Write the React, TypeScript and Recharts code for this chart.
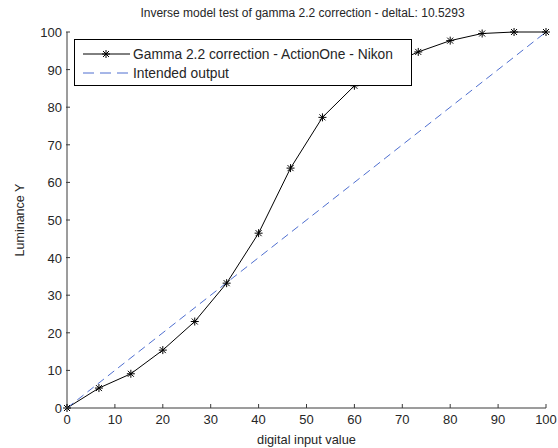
import { LineChart, Line, XAxis, YAxis, Legend } from 'recharts';

const inputValues = [0, 6.67, 13.33, 20, 26.67, 33.33, 40, 46.67, 53.33, 60, 66.67, 73.33, 80, 86.67, 93.33, 100];
const gammaLuminance = [0, 5.3, 9.1, 15.4, 23.0, 33.2, 46.5, 63.8, 77.3, 85.7, 91.0, 94.7, 97.7, 99.6, 100, 100];
const intendedInput = [0, 100];
const intendedLuminance = [0, 100];
const xTicks = [0, 10, 20, 30, 40, 50, 60, 70, 80, 90, 100];
const yTicks = [0, 10, 20, 30, 40, 50, 60, 70, 80, 90, 100];

const gammaData = inputValues.map((x, i) => ({ x, y: gammaLuminance[i] }));
const intendedData = intendedInput.map((x, i) => ({ x, y: intendedLuminance[i] }));

const FONT = '"Liberation Sans", Arial, sans-serif';
const TEXT = '#262626';
const AXIS = '#3a3a3a';
const BLUE = '#4f6fd0';
const DASH = '8 5';

const Star = (props: any) => {
  const { cx, cy } = props;
  if (cx == null || cy == null) return null;
  const r = 4;
  const d = 3;
  return (
    <g stroke="#000" strokeWidth={1}>
      <line x1={cx - r} y1={cy} x2={cx + r} y2={cy} />
      <line x1={cx} y1={cy - r} x2={cx} y2={cy + r} />
      <line x1={cx - d} y1={cy - d} x2={cx + d} y2={cy + d} />
      <line x1={cx - d} y1={cy + d} x2={cx + d} y2={cy - d} />
    </g>
  );
};

const XTick = (props: any) => {
  const { x, y, payload } = props;
  const axisY = y - 4;
  return (
    <g>
      <line x1={x} y1={axisY} x2={x} y2={axisY - 4} stroke={AXIS} />
      <text x={x} y={y} dy={12} textAnchor="middle" fontSize={13} fontFamily={FONT} fill={TEXT}>
        {payload.value}
      </text>
    </g>
  );
};

const YTick = (props: any) => {
  const { x, y, payload } = props;
  const axisX = x + 4;
  return (
    <g>
      <line x1={axisX} y1={y} x2={axisX + 4} y2={y} stroke={AXIS} />
      <text x={x} y={y} dy={5} textAnchor="end" fontSize={13} fontFamily={FONT} fill={TEXT}>
        {payload.value}
      </text>
    </g>
  );
};

const LegendBox = () => (
  <div
    style={{
      width: 338,
      height: 47,
      border: '1px solid #000',
      background: '#fff',
      boxSizing: 'border-box',
    }}
  >
    <svg width={336} height={45} style={{ display: 'block' }}>
      <line x1={8} y1={14} x2={55} y2={14} stroke="#000" />
      <Star cx={31} cy={14} />
      <text x={58} y={19} fontSize={13.8} fontFamily={FONT} fill={TEXT}>
        Gamma 2.2 correction - ActionOne - Nikon
      </text>
      <line x1={8} y1={33} x2={55} y2={33} stroke={BLUE} strokeDasharray="11 6" />
      <text x={58} y={38} fontSize={13.8} fontFamily={FONT} fill={TEXT}>
        Intended output
      </text>
    </svg>
  </div>
);

export default function App() {
  return (
    <div style={{ position: 'absolute', left: 0, top: 0, width: 558, height: 448, background: '#fff' }}>
      <div
        style={{
          position: 'absolute',
          top: 6,
          left: 0,
          width: 605,
          textAlign: 'center',
          fontFamily: FONT,
          fontSize: 12,
          color: TEXT,
        }}
      >
        Inverse model test of gamma 2.2 correction - deltaL: 10.5293
      </div>
      <LineChart width={558} height={448} margin={{ top: 32, right: 12, bottom: 0, left: 0 }}>
        <XAxis
          type="number"
          dataKey="x"
          domain={[0, 100]}
          ticks={xTicks}
          interval={0}
          height={40}
          tickSize={0}
          tickMargin={4}
          tickLine={false}
          tick={<XTick />}
          stroke={AXIS}
          allowDuplicatedCategory={false}
          label={{ value: 'digital input value', position: 'insideBottom', offset: 4, fontSize: 12.8, fontFamily: FONT, fill: TEXT }}
        />
        <YAxis
          type="number"
          dataKey="y"
          domain={[0, 100]}
          ticks={yTicks}
          interval={0}
          width={67}
          tickSize={0}
          tickMargin={5}
          tickLine={false}
          tick={<YTick />}
          stroke={AXIS}
          label={{ value: 'Luminance Y', angle: -90, position: 'insideLeft', offset: 20, fontSize: 12.5, fontFamily: FONT, fill: TEXT, style: { textAnchor: 'middle' } }}
        />
        <Legend
          verticalAlign="middle"
          align="center"
          layout="horizontal"
          content={<LegendBox />}
          wrapperStyle={{ position: 'absolute', top: 39, left: 74, width: 338 }}
        />
        <Line
          data={gammaData}
          type="linear"
          dataKey="y"
          name="Gamma 2.2 correction - ActionOne - Nikon"
          stroke="#000"
          strokeWidth={1}
          dot={<Star />}
          activeDot={false}
          isAnimationActive={false}
        />
        <Line
          data={intendedData}
          type="linear"
          dataKey="y"
          name="Intended output"
          stroke={BLUE}
          strokeWidth={1}
          strokeDasharray={DASH}
          dot={false}
          activeDot={false}
          isAnimationActive={false}
        />
      </LineChart>
    </div>
  );
}
